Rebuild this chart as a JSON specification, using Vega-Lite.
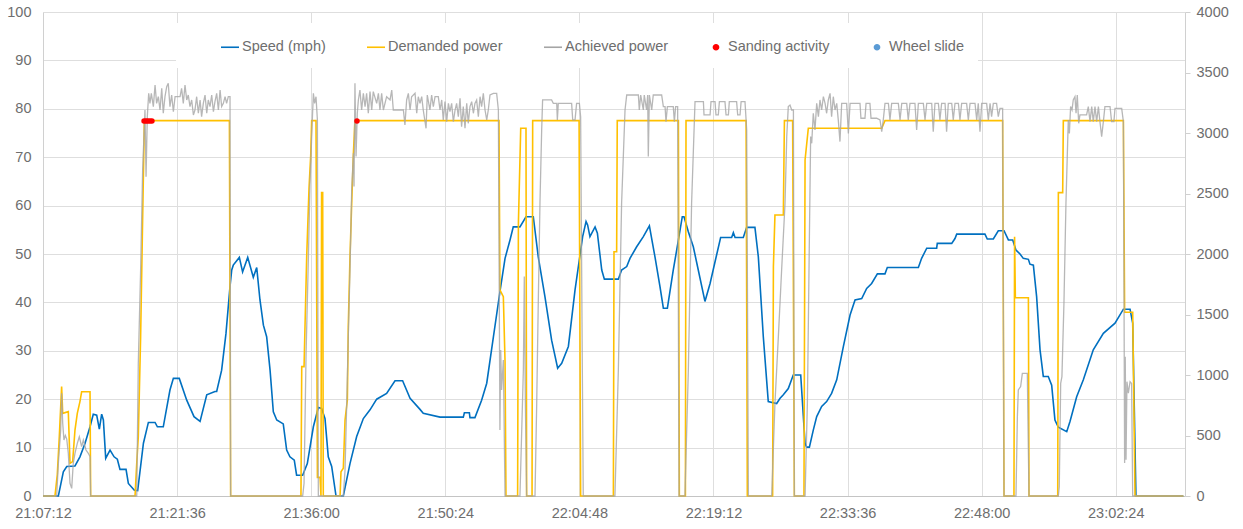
{
  "$schema": "https://vega.github.io/schema/vega-lite/v6.json",
  "width": 1142,
  "height": 484,
  "autosize": {"type": "none"},
  "padding": {"left": 43, "top": 12, "right": 58, "bottom": 33},
  "background": "white",
  "config": {
    "font": "Liberation Sans",
    "view": {"stroke": null},
    "axis": {"labelFont": "Liberation Sans", "labelFontSize": 14.5, "labelColor": "#6e6e6e", "domainColor": "#d0d0d0", "gridColor": "#dedede", "tickColor": "#d0d0d0", "title": null},
    "legend": {"labelFont": "Liberation Sans", "labelFontSize": 14.5, "labelColor": "#6e6e6e"}
  },
  "datasets": {
    "speed": [
      {"time_s":76032,"speed_mph":0},{"time_s":76131,"speed_mph":0},{"time_s":76163,"speed_mph":5.0},{"time_s":76185,"speed_mph":6.1},{"time_s":76238,"speed_mph":6.2},{"time_s":76270,"speed_mph":8.1},{"time_s":76303,"speed_mph":10.9},{"time_s":76335,"speed_mph":14.3},{"time_s":76356,"speed_mph":16.9},{"time_s":76378,"speed_mph":16.7},{"time_s":76395,"speed_mph":13.8},{"time_s":76410,"speed_mph":16.9},{"time_s":76421,"speed_mph":15.7},{"time_s":76436,"speed_mph":7.8},{"time_s":76464,"speed_mph":9.5},{"time_s":76490,"speed_mph":8.1},{"time_s":76511,"speed_mph":7.6},{"time_s":76528,"speed_mph":5.5},{"time_s":76567,"speed_mph":5.5},{"time_s":76582,"speed_mph":2.6},{"time_s":76621,"speed_mph":1.2},{"time_s":76642,"speed_mph":1.1},{"time_s":76679,"speed_mph":10.9},{"time_s":76711,"speed_mph":15.2},{"time_s":76754,"speed_mph":15.2},{"time_s":76769,"speed_mph":14.3},{"time_s":76807,"speed_mph":14.3},{"time_s":76850,"speed_mph":21.9},{"time_s":76872,"speed_mph":24.3},{"time_s":76910,"speed_mph":24.3},{"time_s":76958,"speed_mph":19.8},{"time_s":77005,"speed_mph":16.4},{"time_s":77044,"speed_mph":15.4},{"time_s":77087,"speed_mph":20.9},{"time_s":77140,"speed_mph":21.6},{"time_s":77151,"speed_mph":21.6},{"time_s":77183,"speed_mph":26.0},{"time_s":77211,"speed_mph":33.6},{"time_s":77237,"speed_mph":43.3},{"time_s":77248,"speed_mph":46.7},{"time_s":77258,"speed_mph":47.7},{"time_s":77297,"speed_mph":49.3},{"time_s":77318,"speed_mph":46.3},{"time_s":77351,"speed_mph":49.3},{"time_s":77387,"speed_mph":45.2},{"time_s":77409,"speed_mph":47.2},{"time_s":77430,"speed_mph":40.5},{"time_s":77452,"speed_mph":35.3},{"time_s":77473,"speed_mph":32.9},{"time_s":77495,"speed_mph":26.0},{"time_s":77516,"speed_mph":17.4},{"time_s":77538,"speed_mph":15.7},{"time_s":77580,"speed_mph":14.9},{"time_s":77602,"speed_mph":9.5},{"time_s":77623,"speed_mph":8.1},{"time_s":77651,"speed_mph":7.4},{"time_s":77666,"speed_mph":4.3},{"time_s":77705,"speed_mph":4.3},{"time_s":77735,"speed_mph":6.7},{"time_s":77774,"speed_mph":14.3},{"time_s":77806,"speed_mph":18.3},{"time_s":77827,"speed_mph":18.1},{"time_s":77849,"speed_mph":16.0},{"time_s":77870,"speed_mph":8.1},{"time_s":77892,"speed_mph":6.1},{"time_s":77920,"speed_mph":0},{"time_s":77967,"speed_mph":0},{"time_s":78010,"speed_mph":6.7},{"time_s":78053,"speed_mph":12.3},{"time_s":78096,"speed_mph":16.0},{"time_s":78139,"speed_mph":17.8},{"time_s":78182,"speed_mph":20.0},{"time_s":78246,"speed_mph":21.2},{"time_s":78300,"speed_mph":23.8},{"time_s":78349,"speed_mph":23.8},{"time_s":78397,"speed_mph":20.2},{"time_s":78461,"speed_mph":17.9},{"time_s":78482,"speed_mph":17.1},{"time_s":78590,"speed_mph":16.3},{"time_s":78740,"speed_mph":16.3},{"time_s":78747,"speed_mph":17.2},{"time_s":78779,"speed_mph":17.2},{"time_s":78783,"speed_mph":16.2},{"time_s":78815,"speed_mph":16.2},{"time_s":78858,"speed_mph":19.8},{"time_s":78891,"speed_mph":23.3},{"time_s":78934,"speed_mph":32.9},{"time_s":78976,"speed_mph":42.2},{"time_s":79009,"speed_mph":49.1},{"time_s":79041,"speed_mph":52.9},{"time_s":79062,"speed_mph":55.6},{"time_s":79105,"speed_mph":55.6},{"time_s":79144,"speed_mph":57.7},{"time_s":79191,"speed_mph":57.7},{"time_s":79223,"speed_mph":49.4},{"time_s":79266,"speed_mph":41.2},{"time_s":79309,"speed_mph":32.2},{"time_s":79348,"speed_mph":26.4},{"time_s":79374,"speed_mph":27.4},{"time_s":79417,"speed_mph":30.9},{"time_s":79460,"speed_mph":42.6},{"time_s":79509,"speed_mph":53.6},{"time_s":79531,"speed_mph":56.7},{"time_s":79541,"speed_mph":56.0},{"time_s":79556,"speed_mph":53.6},{"time_s":79589,"speed_mph":55.6},{"time_s":79604,"speed_mph":54.3},{"time_s":79632,"speed_mph":46.7},{"time_s":79649,"speed_mph":44.8},{"time_s":79739,"speed_mph":44.8},{"time_s":79760,"speed_mph":46.7},{"time_s":79793,"speed_mph":47.4},{"time_s":79814,"speed_mph":49.1},{"time_s":79857,"speed_mph":51.5},{"time_s":79900,"speed_mph":53.6},{"time_s":79939,"speed_mph":55.8},{"time_s":79975,"speed_mph":49.4},{"time_s":80007,"speed_mph":43.3},{"time_s":80029,"speed_mph":38.8},{"time_s":80055,"speed_mph":38.8},{"time_s":80093,"speed_mph":46.7},{"time_s":80126,"speed_mph":52.9},{"time_s":80151,"speed_mph":57.7},{"time_s":80162,"speed_mph":57.7},{"time_s":80190,"speed_mph":54.6},{"time_s":80222,"speed_mph":51.5},{"time_s":80254,"speed_mph":46.7},{"time_s":80297,"speed_mph":40.2},{"time_s":80330,"speed_mph":43.9},{"time_s":80362,"speed_mph":48.4},{"time_s":80398,"speed_mph":53.4},{"time_s":80469,"speed_mph":53.4},{"time_s":80480,"speed_mph":54.4},{"time_s":80491,"speed_mph":53.4},{"time_s":80544,"speed_mph":53.4},{"time_s":80566,"speed_mph":55.5},{"time_s":80619,"speed_mph":55.5},{"time_s":80641,"speed_mph":49.4},{"time_s":80673,"speed_mph":32.9},{"time_s":80705,"speed_mph":19.5},{"time_s":80759,"speed_mph":19.1},{"time_s":80781,"speed_mph":20.2},{"time_s":80802,"speed_mph":20.9},{"time_s":80834,"speed_mph":22.2},{"time_s":80866,"speed_mph":25.0},{"time_s":80914,"speed_mph":25.0},{"time_s":80942,"speed_mph":10.9},{"time_s":80952,"speed_mph":10.1},{"time_s":80970,"speed_mph":10.1},{"time_s":80995,"speed_mph":13.6},{"time_s":81017,"speed_mph":16.4},{"time_s":81049,"speed_mph":18.5},{"time_s":81081,"speed_mph":19.5},{"time_s":81113,"speed_mph":21.2},{"time_s":81146,"speed_mph":24.0},{"time_s":81189,"speed_mph":30.9},{"time_s":81232,"speed_mph":37.4},{"time_s":81264,"speed_mph":40.5},{"time_s":81307,"speed_mph":40.8},{"time_s":81339,"speed_mph":42.9},{"time_s":81371,"speed_mph":43.9},{"time_s":81408,"speed_mph":45.9},{"time_s":81457,"speed_mph":45.9},{"time_s":81472,"speed_mph":47.2},{"time_s":81672,"speed_mph":47.2},{"time_s":81693,"speed_mph":49.1},{"time_s":81726,"speed_mph":51.2},{"time_s":81790,"speed_mph":51.2},{"time_s":81794,"speed_mph":52.2},{"time_s":81887,"speed_mph":52.2},{"time_s":81908,"speed_mph":53.2},{"time_s":81919,"speed_mph":54.1},{"time_s":82101,"speed_mph":54.1},{"time_s":82116,"speed_mph":53.1},{"time_s":82155,"speed_mph":53.1},{"time_s":82187,"speed_mph":54.8},{"time_s":82224,"speed_mph":54.8},{"time_s":82252,"speed_mph":52.9},{"time_s":82280,"speed_mph":52.9},{"time_s":82301,"speed_mph":50.8},{"time_s":82327,"speed_mph":50.0},{"time_s":82348,"speed_mph":49.1},{"time_s":82381,"speed_mph":48.9},{"time_s":82391,"speed_mph":47.9},{"time_s":82413,"speed_mph":47.7},{"time_s":82434,"speed_mph":41.2},{"time_s":82456,"speed_mph":30.2},{"time_s":82477,"speed_mph":24.7},{"time_s":82509,"speed_mph":24.7},{"time_s":82531,"speed_mph":22.9},{"time_s":82552,"speed_mph":15.7},{"time_s":82574,"speed_mph":14.2},{"time_s":82628,"speed_mph":13.3},{"time_s":82649,"speed_mph":15.4},{"time_s":82692,"speed_mph":20.5},{"time_s":82735,"speed_mph":24.0},{"time_s":82799,"speed_mph":30.2},{"time_s":82864,"speed_mph":33.6},{"time_s":82939,"speed_mph":35.7},{"time_s":82993,"speed_mph":38.6},{"time_s":83036,"speed_mph":38.6},{"time_s":83053,"speed_mph":35.7},{"time_s":83074,"speed_mph":0},{"time_s":83379,"speed_mph":0}
    ],
    "demanded": [
      {"time_s":76032,"power":0},{"time_s":76109,"power":0},{"time_s":76124,"power":174},{"time_s":76137,"power":490},{"time_s":76152,"power":904},{"time_s":76159,"power":683},{"time_s":76195,"power":697},{"time_s":76206,"power":270},{"time_s":76223,"power":284},{"time_s":76238,"power":545},{"time_s":76253,"power":683},{"time_s":76270,"power":780},{"time_s":76281,"power":862},{"time_s":76335,"power":862},{"time_s":76339,"power":0},{"time_s":76625,"power":0},{"time_s":76636,"power":270},{"time_s":76646,"power":490},{"time_s":76661,"power":1317},{"time_s":76672,"power":2143},{"time_s":76685,"power":3102},{"time_s":77233,"power":3102},{"time_s":77241,"power":0},{"time_s":77694,"power":0},{"time_s":77699,"power":1069},{"time_s":77714,"power":1069},{"time_s":77718,"power":1289},{"time_s":77731,"power":1978},{"time_s":77746,"power":2543},{"time_s":77757,"power":2818},{"time_s":77763,"power":3102},{"time_s":77791,"power":3102},{"time_s":77800,"power":154},{"time_s":77817,"power":154},{"time_s":77823,"power":0},{"time_s":77827,"power":2507},{"time_s":77834,"power":2507},{"time_s":77838,"power":0},{"time_s":77946,"power":0},{"time_s":77952,"power":201},{"time_s":77967,"power":229},{"time_s":77978,"power":628},{"time_s":77993,"power":793},{"time_s":77999,"power":1400},{"time_s":78010,"power":1978},{"time_s":78021,"power":2419},{"time_s":78032,"power":2832},{"time_s":78042,"power":3102},{"time_s":78970,"power":3102},{"time_s":78976,"power":1703},{"time_s":78998,"power":1647},{"time_s":79009,"power":1110},{"time_s":79015,"power":0},{"time_s":79090,"power":0},{"time_s":79095,"power":2254},{"time_s":79110,"power":3039},{"time_s":79144,"power":3039},{"time_s":79148,"power":0},{"time_s":79183,"power":0},{"time_s":79187,"power":3102},{"time_s":79486,"power":3102},{"time_s":79496,"power":0},{"time_s":79707,"power":0},{"time_s":79711,"power":2019},{"time_s":79728,"power":2019},{"time_s":79732,"power":3102},{"time_s":80126,"power":3102},{"time_s":80132,"power":0},{"time_s":80171,"power":0},{"time_s":80175,"power":3102},{"time_s":80562,"power":3102},{"time_s":80570,"power":0},{"time_s":80733,"power":0},{"time_s":80738,"power":1895},{"time_s":80748,"power":2322},{"time_s":80802,"power":2322},{"time_s":80809,"power":3102},{"time_s":80862,"power":3102},{"time_s":80873,"power":0},{"time_s":80935,"power":0},{"time_s":80942,"power":2777},{"time_s":80963,"power":3039},{"time_s":81436,"power":3039},{"time_s":81457,"power":3102},{"time_s":82215,"power":3102},{"time_s":82224,"power":0},{"time_s":82288,"power":0},{"time_s":82292,"power":2143},{"time_s":82297,"power":1639},{"time_s":82381,"power":1639},{"time_s":82385,"power":0},{"time_s":82570,"power":0},{"time_s":82574,"power":2507},{"time_s":82602,"power":2507},{"time_s":82606,"power":3102},{"time_s":82993,"power":3102},{"time_s":83001,"power":1518},{"time_s":83053,"power":1518},{"time_s":83068,"power":0},{"time_s":83379,"power":0}
    ],
    "achieved": [
      {"time_s":76032,"power":0},{"time_s":76120,"power":0},{"time_s":76131,"power":270},{"time_s":76146,"power":545},{"time_s":76152,"power":849},{"time_s":76159,"power":601},{"time_s":76167,"power":463},{"time_s":76176,"power":500},{"time_s":76185,"power":470},{"time_s":76195,"power":353},{"time_s":76206,"power":105},{"time_s":76217,"power":63},{"time_s":76227,"power":270},{"time_s":76238,"power":353},{"time_s":76253,"power":435},{"time_s":76266,"power":490},{"time_s":76281,"power":408},{"time_s":76292,"power":463},{"time_s":76309,"power":380},{"time_s":76324,"power":353},{"time_s":76335,"power":325},{"time_s":76339,"power":0},{"time_s":76636,"power":0},{"time_s":76646,"power":1097},{"time_s":76661,"power":1868},{"time_s":76674,"power":2694},{"time_s":76689,"power":3190},{"time_s":76696,"power":2639},{"time_s":76704,"power":3135},{"time_s":76713,"power":3328},{"time_s":76721,"power":3245},{"time_s":76730,"power":3328},{"time_s":76743,"power":3218},{"time_s":76754,"power":3397},{"time_s":76764,"power":3245},{"time_s":76775,"power":3300},{"time_s":76786,"power":3190},{"time_s":76797,"power":3369},{"time_s":76807,"power":3163},{"time_s":76818,"power":3300},{"time_s":76829,"power":3383},{"time_s":76839,"power":3411},{"time_s":76850,"power":3218},{"time_s":76861,"power":3314},{"time_s":76872,"power":3176},{"time_s":76883,"power":3300},{"time_s":76915,"power":3300},{"time_s":76925,"power":3369},{"time_s":76936,"power":3245},{"time_s":76947,"power":3397},{"time_s":76958,"power":3273},{"time_s":76968,"power":3314},{"time_s":76979,"power":3218},{"time_s":76990,"power":3273},{"time_s":77001,"power":3149},{"time_s":77011,"power":3190},{"time_s":77022,"power":3300},{"time_s":77033,"power":3163},{"time_s":77044,"power":3273},{"time_s":77054,"power":3135},{"time_s":77065,"power":3245},{"time_s":77076,"power":3314},{"time_s":77087,"power":3163},{"time_s":77097,"power":3273},{"time_s":77108,"power":3218},{"time_s":77119,"power":3314},{"time_s":77130,"power":3176},{"time_s":77140,"power":3259},{"time_s":77151,"power":3328},{"time_s":77162,"power":3190},{"time_s":77173,"power":3355},{"time_s":77183,"power":3218},{"time_s":77194,"power":3245},{"time_s":77205,"power":3300},{"time_s":77215,"power":3245},{"time_s":77226,"power":3300},{"time_s":77237,"power":3300},{"time_s":77241,"power":0},{"time_s":77705,"power":0},{"time_s":77714,"power":105},{"time_s":77727,"power":1179},{"time_s":77742,"power":1978},{"time_s":77752,"power":2557},{"time_s":77763,"power":2970},{"time_s":77774,"power":3328},{"time_s":77782,"power":3245},{"time_s":77791,"power":3300},{"time_s":77800,"power":3108},{"time_s":77806,"power":0},{"time_s":77967,"power":0},{"time_s":77978,"power":215},{"time_s":77989,"power":766},{"time_s":77999,"power":1317},{"time_s":78010,"power":1868},{"time_s":78021,"power":2529},{"time_s":78032,"power":2832},{"time_s":78036,"power":2557},{"time_s":78042,"power":3411},{"time_s":78049,"power":2805},{"time_s":78057,"power":3163},{"time_s":78064,"power":3273},{"time_s":78074,"power":3355},{"time_s":78085,"power":3190},{"time_s":78096,"power":3328},{"time_s":78107,"power":3218},{"time_s":78117,"power":3328},{"time_s":78128,"power":3163},{"time_s":78139,"power":3342},{"time_s":78150,"power":3190},{"time_s":78160,"power":3342},{"time_s":78182,"power":3245},{"time_s":78193,"power":3328},{"time_s":78203,"power":3190},{"time_s":78214,"power":3328},{"time_s":78225,"power":3190},{"time_s":78246,"power":3300},{"time_s":78268,"power":3273},{"time_s":78279,"power":3355},{"time_s":78289,"power":3190},{"time_s":78311,"power":3190},{"time_s":78354,"power":3190},{"time_s":78364,"power":3066},{"time_s":78375,"power":3273},{"time_s":78386,"power":3328},{"time_s":78397,"power":3190},{"time_s":78407,"power":3300},{"time_s":78429,"power":3328},{"time_s":78440,"power":3163},{"time_s":78450,"power":3300},{"time_s":78461,"power":3245},{"time_s":78472,"power":3300},{"time_s":78482,"power":3190},{"time_s":78500,"power":3039},{"time_s":78508,"power":3314},{"time_s":78525,"power":3190},{"time_s":78536,"power":3314},{"time_s":78547,"power":3218},{"time_s":78558,"power":3300},{"time_s":78579,"power":3300},{"time_s":78590,"power":3190},{"time_s":78601,"power":3273},{"time_s":78611,"power":3108},{"time_s":78622,"power":3259},{"time_s":78633,"power":3094},{"time_s":78644,"power":3245},{"time_s":78654,"power":3176},{"time_s":78665,"power":3245},{"time_s":78676,"power":3094},{"time_s":78687,"power":3190},{"time_s":78697,"power":3245},{"time_s":78708,"power":3135},{"time_s":78719,"power":3287},{"time_s":78729,"power":3052},{"time_s":78740,"power":3218},{"time_s":78751,"power":3039},{"time_s":78762,"power":3245},{"time_s":78772,"power":3080},{"time_s":78783,"power":3218},{"time_s":78794,"power":3259},{"time_s":78805,"power":3163},{"time_s":78815,"power":3245},{"time_s":78826,"power":3273},{"time_s":78837,"power":3135},{"time_s":78848,"power":3300},{"time_s":78858,"power":3218},{"time_s":78869,"power":3328},{"time_s":78880,"power":3190},{"time_s":78891,"power":3108},{"time_s":78901,"power":3190},{"time_s":78912,"power":3314},{"time_s":78934,"power":3328},{"time_s":78955,"power":3328},{"time_s":78966,"power":3190},{"time_s":78972,"power":1592},{"time_s":78976,"power":545},{"time_s":78981,"power":1207},{"time_s":78987,"power":876},{"time_s":78998,"power":1124},{"time_s":79009,"power":0},{"time_s":79105,"power":0},{"time_s":79127,"power":1041},{"time_s":79133,"power":1813},{"time_s":79140,"power":766},{"time_s":79148,"power":0},{"time_s":79202,"power":0},{"time_s":79213,"power":766},{"time_s":79223,"power":1592},{"time_s":79234,"power":2419},{"time_s":79245,"power":3025},{"time_s":79251,"power":3273},{"time_s":79309,"power":3273},{"time_s":79320,"power":3245},{"time_s":79342,"power":3245},{"time_s":79346,"power":3108},{"time_s":79352,"power":3245},{"time_s":79438,"power":3245},{"time_s":79445,"power":3108},{"time_s":79460,"power":3108},{"time_s":79470,"power":3245},{"time_s":79488,"power":3245},{"time_s":79496,"power":3135},{"time_s":79507,"power":1041},{"time_s":79513,"power":0},{"time_s":79717,"power":0},{"time_s":79739,"power":1041},{"time_s":79760,"power":2419},{"time_s":79782,"power":3190},{"time_s":79793,"power":3314},{"time_s":79868,"power":3314},{"time_s":79874,"power":3190},{"time_s":79883,"power":3314},{"time_s":79900,"power":3190},{"time_s":79906,"power":3314},{"time_s":79921,"power":3190},{"time_s":79928,"power":3314},{"time_s":79932,"power":2805},{"time_s":79939,"power":3314},{"time_s":79954,"power":3190},{"time_s":79964,"power":3314},{"time_s":80018,"power":3314},{"time_s":80029,"power":3218},{"time_s":80040,"power":3218},{"time_s":80046,"power":3094},{"time_s":80055,"power":3218},{"time_s":80093,"power":3218},{"time_s":80100,"power":3094},{"time_s":80108,"power":3218},{"time_s":80121,"power":3218},{"time_s":80130,"power":0},{"time_s":80168,"power":0},{"time_s":80190,"power":1041},{"time_s":80211,"power":2419},{"time_s":80233,"power":3259},{"time_s":80287,"power":3259},{"time_s":80291,"power":3149},{"time_s":80330,"power":3149},{"time_s":80336,"power":3259},{"time_s":80362,"power":3259},{"time_s":80368,"power":3149},{"time_s":80383,"power":3149},{"time_s":80390,"power":3259},{"time_s":80426,"power":3259},{"time_s":80433,"power":3149},{"time_s":80448,"power":3149},{"time_s":80454,"power":3259},{"time_s":80501,"power":3259},{"time_s":80508,"power":3149},{"time_s":80523,"power":3149},{"time_s":80530,"power":3259},{"time_s":80555,"power":3259},{"time_s":80566,"power":3025},{"time_s":80577,"power":0},{"time_s":80727,"power":0},{"time_s":80748,"power":766},{"time_s":80770,"power":1317},{"time_s":80791,"power":1868},{"time_s":80813,"power":2419},{"time_s":80824,"power":2970},{"time_s":80834,"power":3218},{"time_s":80845,"power":3231},{"time_s":80856,"power":3190},{"time_s":80867,"power":3190},{"time_s":80873,"power":0},{"time_s":80942,"power":0},{"time_s":80957,"power":766},{"time_s":80970,"power":2143},{"time_s":80978,"power":2970},{"time_s":80985,"power":2915},{"time_s":80995,"power":3163},{"time_s":81006,"power":3025},{"time_s":81017,"power":3245},{"time_s":81028,"power":3135},{"time_s":81038,"power":3273},{"time_s":81049,"power":3190},{"time_s":81060,"power":3300},{"time_s":81071,"power":3245},{"time_s":81081,"power":3163},{"time_s":81092,"power":3273},{"time_s":81103,"power":3328},{"time_s":81113,"power":3135},{"time_s":81124,"power":3300},{"time_s":81135,"power":3190},{"time_s":81146,"power":3245},{"time_s":81156,"power":3108},{"time_s":81167,"power":2929},{"time_s":81178,"power":3245},{"time_s":81210,"power":3245},{"time_s":81221,"power":2997},{"time_s":81232,"power":3245},{"time_s":81296,"power":3245},{"time_s":81302,"power":3122},{"time_s":81328,"power":3122},{"time_s":81335,"power":3245},{"time_s":81360,"power":3245},{"time_s":81367,"power":3122},{"time_s":81403,"power":3122},{"time_s":81425,"power":3108},{"time_s":81436,"power":3011},{"time_s":81446,"power":3108},{"time_s":81457,"power":3245},{"time_s":81479,"power":3245},{"time_s":81489,"power":3108},{"time_s":81500,"power":3245},{"time_s":81543,"power":3245},{"time_s":81554,"power":3108},{"time_s":81565,"power":3245},{"time_s":81597,"power":3245},{"time_s":81607,"power":3108},{"time_s":81618,"power":3245},{"time_s":81650,"power":3245},{"time_s":81661,"power":3025},{"time_s":81672,"power":3245},{"time_s":81704,"power":3245},{"time_s":81715,"power":3108},{"time_s":81726,"power":3245},{"time_s":81758,"power":3245},{"time_s":81768,"power":3011},{"time_s":81779,"power":3245},{"time_s":81801,"power":3245},{"time_s":81811,"power":3108},{"time_s":81822,"power":3245},{"time_s":81844,"power":3245},{"time_s":81854,"power":3011},{"time_s":81865,"power":3245},{"time_s":81887,"power":3245},{"time_s":81897,"power":3108},{"time_s":81908,"power":3245},{"time_s":81930,"power":3245},{"time_s":81940,"power":3108},{"time_s":81951,"power":3245},{"time_s":81983,"power":3245},{"time_s":81994,"power":3108},{"time_s":82005,"power":3245},{"time_s":82037,"power":3245},{"time_s":82048,"power":3108},{"time_s":82058,"power":3245},{"time_s":82069,"power":3011},{"time_s":82080,"power":3245},{"time_s":82112,"power":3245},{"time_s":82123,"power":3108},{"time_s":82134,"power":3245},{"time_s":82144,"power":3135},{"time_s":82155,"power":3245},{"time_s":82176,"power":3245},{"time_s":82187,"power":3135},{"time_s":82198,"power":3204},{"time_s":82215,"power":3204},{"time_s":82224,"power":0},{"time_s":82301,"power":0},{"time_s":82310,"power":656},{"time_s":82316,"power":876},{"time_s":82331,"power":904},{"time_s":82342,"power":1014},{"time_s":82374,"power":1014},{"time_s":82385,"power":0},{"time_s":82574,"power":0},{"time_s":82580,"power":77},{"time_s":82589,"power":931},{"time_s":82597,"power":986},{"time_s":82610,"power":1592},{"time_s":82623,"power":2419},{"time_s":82632,"power":2832},{"time_s":82638,"power":3108},{"time_s":82645,"power":2997},{"time_s":82653,"power":3218},{"time_s":82662,"power":3190},{"time_s":82670,"power":3273},{"time_s":82681,"power":3300},{"time_s":82688,"power":3163},{"time_s":82696,"power":3314},{"time_s":82705,"power":3080},{"time_s":82713,"power":3149},{"time_s":82756,"power":3149},{"time_s":82767,"power":3218},{"time_s":82778,"power":3094},{"time_s":82789,"power":3218},{"time_s":82799,"power":3094},{"time_s":82810,"power":3218},{"time_s":82821,"power":3094},{"time_s":82832,"power":3218},{"time_s":82842,"power":3094},{"time_s":82853,"power":2970},{"time_s":82864,"power":3094},{"time_s":82874,"power":3218},{"time_s":82907,"power":3218},{"time_s":82917,"power":3094},{"time_s":82932,"power":3094},{"time_s":82939,"power":3204},{"time_s":82982,"power":3204},{"time_s":82993,"power":3094},{"time_s":83001,"power":273},{"time_s":83005,"power":1151},{"time_s":83010,"power":300},{"time_s":83016,"power":945},{"time_s":83025,"power":849},{"time_s":83036,"power":945},{"time_s":83046,"power":930},{"time_s":83053,"power":0},{"time_s":83379,"power":0}
    ],
    "sanding": [
      {"time_s":76683,"power":3100},{"time_s":76696,"power":3100},{"time_s":76708,"power":3100},{"time_s":76721,"power":3100},{"time_s":76734,"power":3100},{"time_s":78055,"power":3100}
    ]
  },
  "layer": [
    {
      "data": {"name": "speed"},
      "mark": {"type": "line", "strokeWidth": 1.6},
      "encoding": {
        "x": {"field": "time_s", "type": "quantitative",
          "scale": {"domain": [76032, 83390], "nice": false, "zero": false},
          "axis": {"values": [76032, 76896, 77760, 78624, 79488, 80352, 81216, 82080, 82944],
            "labelExpr": "utcFormat(datum.value * 1000, '%H:%M:%S')",
            "grid": true, "ticks": false, "labelPadding": 10, "domainColor": "#c4c4c4",
            "labelFlush": false, "labelOverlap": false}},
        "y": {"field": "speed_mph", "type": "quantitative",
          "scale": {"domain": [0, 100], "nice": false},
          "axis": {"orient": "left", "values": [0, 10, 20, 30, 40, 50, 60, 70, 80, 90, 100],
            "grid": true, "ticks": false, "labelPadding": 12, "domain": true}},
        "color": {"datum": "Speed (mph)", "type": "nominal",
          "scale": {"domain": ["Speed (mph)", "Demanded power", "Achieved power", "Sanding activity", "Wheel slide"],
            "range": ["#0070C0", "#FFC000", "#A5A5A5", "#FF0000", "#5B9BD5"]},
          "legend": {
            "orient": "none", "legendX": 133, "legendY": 11, "direction": "horizontal",
            "fillColor": "white", "padding": 14, "title": " ", "titleOrient": "left", "titlePadding": 30,
            "columnPadding": 37, "labelOffset": 2, "symbolSize": 324, "symbolType": "stroke",
            "symbolStrokeWidth": 1.6,
            "encode": {"symbols": {"update": {
              "shape": {"signal": "indexof(['Sanding activity','Wheel slide'], datum.value) >= 0 ? 'circle' : 'stroke'"},
              "size": {"signal": "indexof(['Sanding activity','Wheel slide'], datum.value) >= 0 ? 26 : 324"},
              "fill": {"signal": "indexof(['Sanding activity','Wheel slide'], datum.value) >= 0 ? scale('color', datum.value) : 'transparent'"},
              "stroke": {"signal": "indexof(['Sanding activity','Wheel slide'], datum.value) >= 0 ? 'transparent' : scale('color', datum.value)"},
              "strokeWidth": {"value": 1.6},
              "opacity": {"value": 1}
            }}}
          }}
      }
    },
    {
      "layer": [
        {
          "data": {"name": "demanded"},
          "mark": {"type": "line", "strokeWidth": 1.6},
          "encoding": {
            "x": {"field": "time_s", "type": "quantitative"},
            "y": {"field": "power", "type": "quantitative",
              "scale": {"domain": [0, 4000], "nice": false},
              "axis": {"orient": "right", "values": [0, 500, 1000, 1500, 2000, 2500, 3000, 3500, 4000],
                "format": "d", "grid": false, "ticks": true, "tickSize": 5, "labelPadding": 6, "domain": true}},
            "color": {"datum": "Demanded power", "type": "nominal"}
          }
        },
        {
          "data": {"name": "achieved"},
          "mark": {"type": "line", "strokeWidth": 1.3, "opacity": 0.8},
          "encoding": {
            "x": {"field": "time_s", "type": "quantitative"},
            "y": {"field": "power", "type": "quantitative"},
            "color": {"datum": "Achieved power", "type": "nominal"}
          }
        },
        {
          "data": {"name": "sanding"},
          "mark": {"type": "point", "filled": true, "size": 30, "opacity": 1},
          "encoding": {
            "x": {"field": "time_s", "type": "quantitative"},
            "y": {"field": "power", "type": "quantitative"},
            "color": {"datum": "Sanding activity", "type": "nominal"}
          }
        }
      ]
    }
  ],
  "resolve": {"scale": {"y": "independent"}}
}
